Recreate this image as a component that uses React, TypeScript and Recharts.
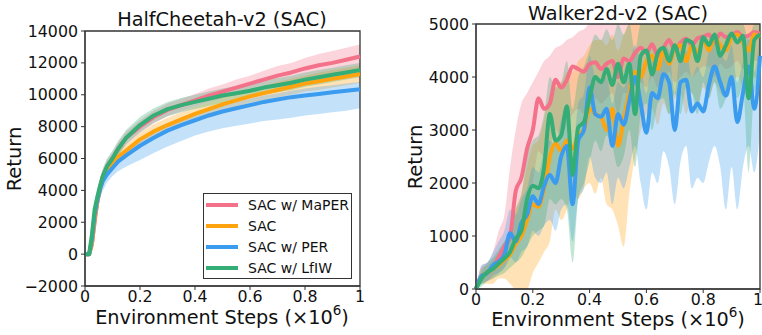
import React from 'react';
import { ComposedChart, Area, Line, XAxis, YAxis, ReferenceArea } from 'recharts';

// series order follows the legend
const SERIES = ['SAC w/ MaPER', 'SAC', 'SAC w/ PER', 'SAC w/ LfIW'];
const KEYS = ['maper', 'sac', 'per', 'lfiw'];
const COLORS = ['#f4718a', '#ffa30f', '#3a9bef', '#35ad77'];

const X_TICKS = [0, 0.2, 0.4, 0.6, 0.8, 1];
const HC_Y_TICKS = [-2000, 0, 2000, 4000, 6000, 8000, 10000, 12000, 14000];
const W_Y_TICKS = [0, 1000, 2000, 3000, 4000, 5000];

// HalfCheetah-v2 (steps x1e6)
const HC_X = [0, 0.015, 0.025, 0.035, 0.045, 0.055, 0.065, 0.08, 0.1, 0.12, 0.15, 0.2, 0.25, 0.3, 0.35, 0.4, 0.45, 0.5, 0.55, 0.6, 0.65, 0.7, 0.75, 0.8, 0.85, 0.9, 0.95, 1.0];
const HC_MAPER = [0, 0, 600, 2000, 3300, 4200, 4900, 5500, 6000, 6600, 7300, 8000, 8600, 9050, 9350, 9650, 9950, 10200, 10450, 10700, 10950, 11200, 11400, 11650, 11850, 12000, 12200, 12400];
const HC_MAPER_HI = [0, 0, 1000, 2600, 3900, 4700, 5300, 5900, 6400, 7000, 7700, 8400, 9000, 9450, 9750, 10050, 10400, 10650, 10950, 11200, 11500, 11800, 12000, 12300, 12550, 12750, 12950, 13150];
const HC_MAPER_LO = [0, 0, 200, 1300, 2600, 3600, 4400, 5100, 5600, 6200, 6900, 7600, 8200, 8650, 8950, 9250, 9550, 9800, 10000, 10200, 10400, 10650, 10850, 11050, 11200, 11350, 11500, 11700];
const HC_SAC = [0, 0, 600, 2200, 3300, 4100, 4700, 5300, 5700, 6100, 6500, 7200, 7700, 8100, 8450, 8800, 9100, 9400, 9650, 9900, 10100, 10300, 10500, 10700, 10850, 11000, 11150, 11300];
const HC_SAC_HI = [0, 0, 900, 2600, 3700, 4500, 5100, 5700, 6100, 6500, 6900, 7600, 8150, 8550, 8900, 9250, 9550, 9850, 10100, 10350, 10550, 10800, 11000, 11200, 11400, 11550, 11700, 11850];
const HC_SAC_LO = [0, 0, 300, 1800, 2900, 3700, 4300, 4900, 5300, 5700, 6100, 6800, 7300, 7700, 8050, 8400, 8700, 9000, 9250, 9500, 9650, 9850, 10000, 10200, 10300, 10450, 10600, 10750];
const HC_PER = [0, 0, 900, 2500, 3400, 4100, 4600, 5000, 5400, 5800, 6200, 6800, 7300, 7750, 8100, 8400, 8700, 8950, 9150, 9350, 9550, 9700, 9850, 9950, 10050, 10150, 10250, 10350];
const HC_PER_HI = [0, 0, 1300, 2900, 3800, 4500, 5000, 5400, 5800, 6200, 6600, 7200, 7700, 8150, 8500, 8800, 9100, 9350, 9550, 9750, 9950, 10100, 10250, 10400, 10500, 10600, 10700, 10800];
const HC_PER_LO = [0, 0, 400, 1800, 2700, 3500, 4000, 4500, 4900, 5200, 5500, 5900, 6350, 6750, 7100, 7450, 7700, 7900, 8050, 8200, 8350, 8450, 8550, 8700, 8800, 8900, 9000, 9150];
const HC_LFIW = [0, 0, 1200, 2800, 3600, 4300, 4900, 5500, 6000, 6600, 7300, 8100, 8700, 9100, 9350, 9550, 9750, 9950, 10100, 10250, 10450, 10600, 10750, 10950, 11100, 11250, 11400, 11550];
const HC_LFIW_HI = [0, 0, 1600, 3300, 4100, 4800, 5400, 6000, 6500, 7100, 7800, 8600, 9150, 9550, 9800, 10000, 10200, 10400, 10550, 10700, 10900, 11050, 11200, 11400, 11550, 11700, 11850, 12000];
const HC_LFIW_LO = [0, 0, 800, 2400, 3200, 3900, 4500, 5100, 5600, 6200, 6900, 7650, 8250, 8650, 8900, 9100, 9300, 9500, 9650, 9800, 10000, 10150, 10300, 10500, 10650, 10800, 10950, 11100];

// Walker2d-v2 (steps x1e6)
const W_X = [0, 0.02, 0.04, 0.06, 0.08, 0.1, 0.12, 0.14, 0.16, 0.18, 0.2, 0.22, 0.24, 0.26, 0.28, 0.3, 0.32, 0.34, 0.36, 0.38, 0.4, 0.42, 0.44, 0.46, 0.48, 0.5, 0.52, 0.54, 0.56, 0.58, 0.6, 0.62, 0.64, 0.66, 0.68, 0.7, 0.72, 0.74, 0.76, 0.78, 0.8, 0.82, 0.84, 0.86, 0.88, 0.9, 0.92, 0.94, 0.96, 0.98, 1.0];
const W_MAPER = [0, 250, 300, 400, 600, 800, 1000, 1850, 2100, 2650, 3000, 3600, 3400, 3500, 3950, 3800, 3950, 4200, 4150, 4100, 4250, 4280, 4150, 4250, 4300, 4000, 4350, 4300, 4450, 4550, 4450, 4620, 4400, 4550, 4700, 4500, 4650, 4720, 4600, 4730, 4760, 4800, 4650, 4820, 4750, 4780, 4850, 4760, 4780, 4850, 4820];
const W_MAPER_HI = [0, 450, 500, 700, 1100, 1400, 2300, 3000, 3500, 3700, 3900, 4100, 4300, 4400, 4550, 4600, 4700, 4750, 4850, 4900, 5000, 5000, 5000, 5000, 5000, 5000, 5000, 5000, 5000, 5000, 5000, 5000, 5000, 5000, 5000, 5000, 5000, 5000, 5000, 5000, 5000, 5000, 5000, 5000, 5000, 5000, 5000, 5000, 5000, 5000, 5000];
const W_MAPER_LO = [0, 100, 150, 200, 300, 400, 600, 1000, 1200, 1600, 2000, 2600, 2500, 2700, 3000, 2900, 3100, 3300, 3400, 3300, 3500, 3600, 3500, 3600, 3700, 3300, 3700, 3700, 3800, 3900, 3800, 4000, 3800, 3900, 4100, 3900, 4000, 4100, 4000, 4100, 4200, 4200, 4000, 4250, 4150, 4200, 4300, 4150, 4200, 4300, 4300];
const W_SAC = [0, 250, 300, 380, 450, 550, 650, 850, 1000, 1300, 1600, 1550, 1900, 2500, 2750, 2600, 2800, 2650, 2900, 3000, 3400, 3300, 3250, 3000, 3400, 2700, 3200, 3700, 4100, 4000, 4300, 4400, 4150, 4500, 4250, 4550, 4600, 4300, 4600, 4450, 4700, 4500, 4750, 4600, 4500, 4750, 4800, 4650, 4500, 4800, 4750];
const W_SAC_HI = [0, 400, 450, 550, 700, 900, 1100, 1500, 1800, 2300, 2700, 2800, 3200, 3700, 3900, 3900, 4100, 4100, 4300, 4400, 4600, 4700, 4700, 4600, 4800, 4500, 4800, 5000, 5000, 5000, 5000, 5000, 5000, 5000, 5000, 5000, 5000, 5000, 5000, 5000, 5000, 5000, 5000, 5000, 5000, 5000, 5000, 5000, 5000, 5000, 5000];
const W_SAC_LO = [0, 100, 100, 100, 200, 200, 100, 0, 0, 0, 300, 500, 700, 900, 1500, 1300, 1500, 1800, 1700, 1900, 2000, 1800, 2100, 1600, 1500, 1200, 800, 1800, 2500, 3000, 3300, 3400, 3100, 3500, 3300, 3600, 3700, 3300, 3700, 3500, 3800, 3600, 3900, 3700, 3600, 3900, 4000, 3800, 3600, 4000, 3900];
const W_PER = [0, 250, 300, 450, 520, 650, 1050, 900, 1250, 1400, 1750, 1600, 1950, 2150, 2000, 2500, 2700, 1600, 2800, 3000, 3800, 3300, 3250, 3400, 2700, 3300, 3100, 3550, 4000, 3500, 2950, 3700, 3600, 4050, 3900, 3000, 3900, 3950, 3350, 3500, 3350, 3850, 4200, 3900, 3650, 4000, 3150, 3700, 4200, 3400, 4400];
const W_PER_HI = [0, 450, 500, 700, 900, 1100, 1500, 1400, 1700, 1900, 2300, 2200, 2600, 2800, 2700, 3200, 3400, 2500, 3500, 3700, 4400, 4000, 3900, 4000, 3500, 3900, 3800, 4200, 4600, 4200, 3700, 4300, 4200, 4600, 4500, 3700, 4500, 4500, 4000, 4200, 4000, 4500, 4800, 4500, 4300, 4600, 3900, 4300, 4800, 4100, 4900];
const W_PER_LO = [0, 100, 150, 250, 300, 400, 600, 500, 700, 800, 1100, 1000, 1200, 1300, 1100, 1500, 1600, 900, 1700, 1900, 2500, 2100, 2000, 2200, 1600, 2100, 1900, 2300, 2700, 2000, 1500, 2200, 2000, 2600, 2300, 1600, 2400, 2700, 1900, 2100, 2000, 2400, 2700, 2300, 1500, 2300, 1500, 2300, 2700, 2200, 3000];
const W_LFIW = [0, 200, 320, 380, 480, 580, 700, 950, 1100, 1700, 1950, 1900, 2300, 3300, 2800, 2900, 3450, 2150, 3050, 3150, 3600, 4000, 3900, 4150, 3850, 4250, 3900, 4250, 3300, 4400, 4500, 4050, 4450, 4550, 4300, 4600, 4300, 4700, 4650, 4300, 4750, 4600, 4800, 4400, 4600, 4820, 4650, 4780, 3600, 4700, 4800];
const W_LFIW_HI = [0, 350, 500, 600, 750, 900, 1100, 1500, 1800, 2500, 2800, 2900, 3300, 4000, 3800, 3900, 4300, 3400, 4000, 4200, 4500, 4800, 4700, 4900, 4700, 5000, 4800, 5000, 4500, 5000, 5000, 5000, 5000, 5000, 5000, 5000, 5000, 5000, 5000, 5000, 5000, 5000, 5000, 5000, 5000, 5000, 5000, 5000, 4700, 5000, 5000];
const W_LFIW_LO = [0, 50, 150, 200, 250, 300, 400, 500, 600, 800, 1000, 1100, 1200, 1700, 1600, 1700, 1500, 500, 1700, 2000, 2400, 2800, 2600, 2900, 2700, 2300, 2500, 3000, 2300, 3300, 3500, 3000, 3500, 3600, 3300, 3700, 3300, 3800, 3700, 3300, 3900, 3600, 3900, 3400, 3600, 3900, 3600, 3800, 2200, 3700, 3900];

const buildRows = (xs: number[], lines: number[][], los: number[][], his: number[][]) =>
  xs.map((x, i) => {
    const row: any = { x };
    KEYS.forEach((k, j) => {
      row[k] = lines[j][i];
      row[k + 'Band'] = [los[j][i], his[j][i]];
    });
    return row;
  });

const hcRows = buildRows(
  HC_X,
  [HC_MAPER, HC_SAC, HC_PER, HC_LFIW],
  [HC_MAPER_LO, HC_SAC_LO, HC_PER_LO, HC_LFIW_LO],
  [HC_MAPER_HI, HC_SAC_HI, HC_PER_HI, HC_LFIW_HI]
);
const wRows = buildRows(
  W_X,
  [W_MAPER, W_SAC, W_PER, W_LFIW],
  [W_MAPER_LO, W_SAC_LO, W_PER_LO, W_LFIW_LO],
  [W_MAPER_HI, W_SAC_HI, W_PER_HI, W_LFIW_HI]
);

const FONT = 'DejaVu Sans';
const AXIS = '#333';
const tickStyle = { fill: '#111', fontSize: 15.8, fontFamily: FONT };

const fmtX = (v: number) => (v === 0 ? '0' : v === 1 ? '1' : v.toFixed(1));
const fmtY = (v: number) => (v < 0 ? `\u2212${Math.abs(v)}` : `${v}`);

const Panel = ({ rows, yDomain, yTicks, yWidth, xHeight, margin, curve }: any) => (
  <ComposedChart width={381} height={335} data={rows} margin={margin}>
    <XAxis
      type="number"
      dataKey="x"
      domain={[0, 1]}
      ticks={X_TICKS}
      tickFormatter={fmtX}
      height={xHeight}
      tickSize={4}
      tickMargin={1}
      stroke={AXIS}
      tick={tickStyle}
    />
    <YAxis
      type="number"
      domain={yDomain}
      ticks={yTicks}
      tickFormatter={fmtY}
      width={yWidth}
      tickSize={4}
      tickMargin={3}
      stroke={AXIS}
      tick={tickStyle}
      allowDataOverflow
    />
    {KEYS.map((k, i) => (
      <Area
        key={k + 'band'}
        type={curve}
        dataKey={k + 'Band'}
        stroke="none"
        fill={COLORS[i]}
        fillOpacity={0.3}
        isAnimationActive={false}
      />
    ))}
    {KEYS.map((k, i) => (
      <Line
        key={k}
        type={curve}
        dataKey={k}
        stroke={COLORS[i]}
        strokeWidth={4}
        dot={false}
        strokeLinejoin="round"
        isAnimationActive={false}
      />
    ))}
    <ReferenceArea
      x1={0}
      x2={1}
      y1={yDomain[0]}
      y2={yDomain[1]}
      fill="none"
      stroke={AXIS}
      strokeWidth={1.3}
      strokeOpacity={1}
    />
  </ComposedChart>
);

const textBase: React.CSSProperties = {
  position: 'absolute',
  fontFamily: FONT,
  color: '#111',
  whiteSpace: 'nowrap',
  transform: 'translate(-50%, -50%)',
  lineHeight: 1,
};

const XLabel = ({ cx, cy }: { cx: number; cy: number }) => (
  <div style={{ ...textBase, left: cx, top: cy, fontSize: 19.3 }}>
    Environment Steps (×10<sup style={{ fontSize: 13.5, verticalAlign: 'top', position: 'relative', top: -4 }}>6</sup>)
  </div>
);

const YLabel = ({ cx, cy }: { cx: number; cy: number }) => (
  <div style={{ ...textBase, left: cx, top: cy, fontSize: 19.5, transform: 'translate(-50%, -50%) rotate(-90deg)' }}>
    Return
  </div>
);

const Title = ({ cx, cy, text }: { cx: number; cy: number; text: string }) => (
  <div style={{ ...textBase, left: cx, top: cy, fontSize: 19.3 }}>{text}</div>
);

const LegendBox = () => (
  <div
    style={{
      position: 'absolute',
      left: 203,
      top: 193,
      width: 147,
      height: 84,
      border: `1px solid ${AXIS}`,
      background: 'rgba(255,255,255,0.85)',
      fontFamily: FONT,
      fontSize: 14,
      color: '#111',
    }}
  >
    {SERIES.map((name, i) => (
      <div key={name} style={{ position: 'absolute', left: 2, top: 1 + i * 21, height: 20, display: 'flex', alignItems: 'center' }}>
        <div style={{ width: 32, height: 4, background: COLORS[i], marginRight: 10 }} />
        <span>{name}</span>
      </div>
    ))}
  </div>
);

export default function App() {
  return (
    <div style={{ position: 'fixed', left: 0, top: 0, width: 762, height: 335, background: '#fff', overflow: 'hidden' }}>
      <div style={{ position: 'absolute', left: 0, top: 0 }}>
        <Panel
          rows={hcRows}
          yDomain={[-2000, 14000]}
          yTicks={HC_Y_TICKS}
          yWidth={85}
          xHeight={49}
          curve="linear"
          margin={{ top: 31, right: 21, bottom: 0, left: 0 }}
        />
      </div>
      <div style={{ position: 'absolute', left: 381, top: 0 }}>
        <Panel
          rows={wRows}
          yDomain={[0, 5000]}
          yTicks={W_Y_TICKS}
          yWidth={95}
          xHeight={46}
          curve="monotone"
          margin={{ top: 24, right: 2, bottom: 0, left: 0 }}
        />
      </div>
      <Title cx={222} cy={20} text="HalfCheetah-v2 (SAC)" />
      <Title cx={618} cy={14} text="Walker2d-v2 (SAC)" />
      <YLabel cx={15} cy={159} />
      <YLabel cx={416} cy={157} />
      <XLabel cx={222} cy={318} />
      <XLabel cx={618} cy={320} />
      <LegendBox />
    </div>
  );
}
